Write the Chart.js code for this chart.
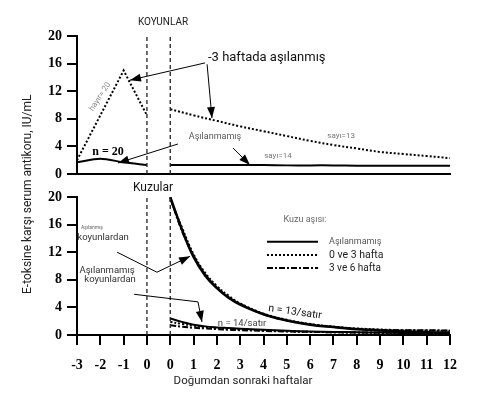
<!DOCTYPE html>
<html>
<head>
<meta charset="utf-8">
<script src="https://cdn.jsdelivr.net/npm/chart.js@4.4.0/dist/chart.umd.min.js"></script>
<style>
  body { margin: 0; background: #fff; }
  #wrap { position: relative; width: 484px; height: 393px; }
  #wrap canvas { position: absolute; left: 0; top: 0; }
</style>
</head>
<body>
<div id="wrap">
  <canvas id="ewes" width="484" height="393"></canvas>
  <canvas id="lambs" width="484" height="393"></canvas>
</div>
<script>
// postpartum weeks sit one step to the right of the pre-lambing block
var GAP = 1;

// ewes - top panel
var ewePreWeeks = [-3, -2, -1, 0];
var eweUnvaccPre = [1.7, 2.2, 1.7, 1.3];
var eweVaccPreWeeks = [-3, -1, 0];
var eweVaccPre = [2.0, 15.0, 8.5];
var ewePostWeeks = [0, 1, 2, 3, 4, 5, 6, 7, 8, 9, 10, 11, 12];
var eweVaccPost = [9.4, 8.5, 7.7, 6.9, 6.2, 5.5, 4.8, 4.2, 3.7, 3.2, 2.9, 2.6, 2.3];
var eweUnvaccPost = [1.3, 1.3, 1.3, 1.3, 1.3, 1.25, 1.25, 1.25, 1.2, 1.2, 1.2, 1.2, 1.2];

// lambs - bottom panel
var lambWeeks = [0, 0.5, 1, 1.5, 2, 2.5, 3, 4, 5, 6, 7, 8, 9, 10, 11, 12];
var vaccDamsNone = [20, 15.3, 11.3, 8.6, 6.8, 5.4, 4.4, 3.0, 2.1, 1.5, 1.15, 0.85, 0.65, 0.5, 0.4, 0.35];
var vaccDams03 = [19.6, 15.6, 11.7, 9.0, 7.1, 5.7, 4.6, 3.1, 2.2, 1.6, 1.2, 0.95, 0.8, 0.7, 0.65, 0.6];
var vaccDams36 = [19.9, 15.1, 11.5, 8.8, 6.9, 5.5, 4.5, 3.0, 2.1, 1.55, 1.2, 0.9, 0.75, 0.7, 0.7, 0.65];
var unvaccDamsNone = [2.4, 1.9, 1.5, 1.25, 1.1, 1.0, 0.9, 0.75, 0.6, 0.5, 0.45, 0.4, 0.35, 0.3, 0.3, 0.3];
var unvaccDams03 = [1.9, 1.6, 1.35, 1.15, 1.0, 0.9, 0.8, 0.65, 0.55, 0.45, 0.4, 0.35, 0.3, 0.3, 0.3, 0.3];
var unvaccDams36 = [1.4, 1.2, 1.05, 0.95, 0.85, 0.75, 0.7, 0.6, 0.5, 0.45, 0.4, 0.35, 0.35, 0.3, 0.3, 0.3];

var yTicks = [0, 4, 8, 12, 16, 20];
var legendLabels = ['Aşılanmamış', '0 ve 3 hafta', '3 ve 6 hafta'];

var SANS = 'Roboto, "Liberation Sans", sans-serif';
var TICKFONT = { family: '"Liberation Serif", serif', size: 14, weight: 'bold' };
var DOTTED = [2, 2];
var DASHDOT = [6, 2, 2, 2];

function pts(weeks, vals, shift) {
    return weeks.map(function (w, i) { return { x: w + shift, y: vals[i] }; });
}

function line(data, dash, width, tension) {
    return {
        data: data,
        borderColor: '#000',
        borderWidth: width,
        borderDash: dash,
        pointRadius: 0,
        tension: tension,
        fill: false
    };
}

function P(chart, x, y) {
    return { x: chart.scales.x.getPixelForValue(x), y: chart.scales.y.getPixelForValue(y) };
}

function text(ctx, s, p, size, color, rot, align, style) {
    ctx.save();
    ctx.translate(p.x, p.y);
    if (rot) ctx.rotate(rot * Math.PI / 180);
    ctx.font = (style || '') + ' ' + size + 'px ' + SANS;
    ctx.fillStyle = color || '#000';
    ctx.textAlign = align || 'center';
    ctx.textBaseline = 'middle';
    ctx.fillText(s, 0, 0);
    ctx.restore();
}

function arrow(ctx, list) {
    ctx.save();
    ctx.strokeStyle = '#000';
    ctx.fillStyle = '#000';
    ctx.lineWidth = 1;
    ctx.beginPath();
    ctx.moveTo(list[0].x, list[0].y);
    for (var i = 1; i < list.length; i++) ctx.lineTo(list[i].x, list[i].y);
    ctx.stroke();
    var a = list[list.length - 2], b = list[list.length - 1];
    var ang = Math.atan2(b.y - a.y, b.x - a.x);
    ctx.translate(b.x, b.y);
    ctx.rotate(ang);
    ctx.beginPath();
    ctx.moveTo(0, 0);
    ctx.lineTo(-11, -4);
    ctx.lineTo(-11, 4);
    ctx.closePath();
    ctx.fill();
    ctx.restore();
}

function splitLines(chart) {
    var ctx = chart.ctx;
    ctx.save();
    ctx.strokeStyle = '#222';
    ctx.lineWidth = 1.3;
    ctx.setLineDash([4, 3]);
    [0, GAP].forEach(function (v) {
        var a = P(chart, v, 0), b = P(chart, v, 20);
        ctx.beginPath();
        ctx.moveTo(a.x, a.y);
        ctx.lineTo(b.x, b.y - 1);
        ctx.stroke();
    });
    ctx.restore();
}

function yAxis() {
    return {
        min: 0,
        max: 20,
        afterBuildTicks: function (s) { s.ticks = yTicks.map(function (v) { return { value: v }; }); },
        afterFit: function (s) { s.width = 77; },
        ticks: { color: '#000', padding: 5, font: TICKFONT },
        grid: { drawOnChartArea: false, tickLength: 10, color: '#000', lineWidth: 2 },
        border: { color: '#000', width: 2 }
    };
}

// ewes chart - top panel
var ewesNotes = {
    id: 'ewesNotes',
    afterDraw: function (chart) {
        var ctx = chart.ctx;
        splitLines(chart);
        text(ctx, 'KOYUNLAR', P(chart, 0.69, 21.9), 10, '#222');
        text(ctx, '-3 haftada aşılanmış', P(chart, 2.62, 16.8), 13, '#111', 0, 'left');
        arrow(ctx, [P(chart, 2.49, 16.1), P(chart, -0.73, 13.6)]);
        arrow(ctx, [P(chart, 2.58, 15.9), P(chart, 2.79, 8.1)]);
        text(ctx, 'hayır= 20', P(chart, -2.01, 11.2), 8, '#888', -57);
        ctx.save();
        var n = P(chart, -1.67, 3.2);
        ctx.font = 'bold 12px "Liberation Serif", serif';
        ctx.textAlign = 'center';
        ctx.textBaseline = 'middle';
        ctx.fillStyle = '#000';
        ctx.fillText('n = 20', n.x, n.y);
        ctx.restore();
        text(ctx, 'Aşılanmamış', P(chart, 2.92, 5.4), 9, '#555');
        arrow(ctx, [P(chart, 1.33, 4.35), P(chart, -1.24, 1.6)]);
        arrow(ctx, [P(chart, 3.69, 3.77), P(chart, 4.42, 1.3)]);
        text(ctx, 'sayı=13', P(chart, 8.33, 5.5), 8, '#777');
        text(ctx, 'sayı=14', P(chart, 5.62, 2.6), 8, '#777');
    }
};

new Chart(document.getElementById('ewes').getContext('2d'), {
    type: 'line',
    data: {
        datasets: [
            line(pts(eweVaccPreWeeks, eweVaccPre, 0), DOTTED, 2, 0),
            line(pts(ewePreWeeks, eweUnvaccPre, 0), [], 2, 0.3),
            line(pts(ewePostWeeks, eweVaccPost, GAP), DOTTED, 2, 0.4),
            line(pts(ewePostWeeks, eweUnvaccPost, GAP), [], 2, 0.4)
        ]
    },
    options: {
        responsive: false,
        animation: false,
        layout: { padding: { top: 36, right: 34, left: 0, bottom: 219 } },
        plugins: { legend: { display: false }, tooltip: { enabled: false } },
        scales: {
            x: {
                type: 'linear',
                min: -3,
                max: 12 + GAP,
                afterFit: function (s) { s.height = 0; },
                ticks: { display: false },
                grid: { display: false },
                border: { color: '#000', width: 2 }
            },
            y: yAxis()
        }
    },
    plugins: [ewesNotes]
});

// lambs chart - bottom panel
var lambsNotes = {
    id: 'lambsNotes',
    afterDraw: function (chart) {
        var ctx = chart.ctx;
        splitLines(chart);
        text(ctx, 'Kuzular', P(chart, 0.26, 21.3), 12, '#111');
        text(ctx, 'E-toksine karşı serum antikoru, IU/mL', P(chart, -5.1, 20.4), 12, '#222', -90);
        text(ctx, 'Doğumdan sonraki haftalar', P(chart, 4.12, -6.7), 11.5, '#222');

        text(ctx, 'Aşılanmış', P(chart, -2.36, 15.5), 5, '#666');
        text(ctx, 'koyunlardan', P(chart, -1.88, 14.1), 9.5, '#333');
        arrow(ctx, [P(chart, -1.28, 12.0), P(chart, 0.43, 9.1), P(chart, 1.85, 11.4)]);
        text(ctx, 'Aşılanmamış', P(chart, -1.71, 9.3), 9.5, '#333');
        text(ctx, 'koyunlardan', P(chart, -1.58, 8.0), 9.5, '#333');
        arrow(ctx, [P(chart, -0.55, 5.9), P(chart, 2.19, 4.8), P(chart, 2.36, 1.9)]);
        text(ctx, 'n = 14/satır', P(chart, 4.08, 1.6), 9.5, '#444');
        text(ctx, 'n = 13/satır', P(chart, 6.35, 3.3), 10.5, '#111', 8);

        // legend
        text(ctx, 'Kuzu aşısı:', P(chart, 6.78, 16.7), 9, '#666');
        var dashes = [[], DOTTED, DASHDOT];
        var rows = [13.5, 11.6, 9.7];
        var sizes = [9, 10.5, 10];
        rows.forEach(function (r, i) {
            var a = P(chart, 5.15, r), b = P(chart, 7.34, r);
            ctx.save();
            ctx.strokeStyle = '#000';
            ctx.lineWidth = 2;
            ctx.setLineDash(dashes[i]);
            ctx.beginPath();
            ctx.moveTo(a.x, a.y);
            ctx.lineTo(b.x, b.y);
            ctx.stroke();
            ctx.restore();
            text(ctx, legendLabels[i], P(chart, 7.81, r), sizes[i], i ? '#222' : '#555', 0, 'left');
        });
    }
};

new Chart(document.getElementById('lambs').getContext('2d'), {
    type: 'line',
    data: {
        datasets: [
            line(pts(lambWeeks, vaccDamsNone, GAP), [], 2.5, 0.4),
            line(pts(lambWeeks, vaccDams03, GAP), DOTTED, 2, 0.4),
            line(pts(lambWeeks, vaccDams36, GAP), DASHDOT, 2, 0.4),
            line(pts(lambWeeks, unvaccDamsNone, GAP), [], 2, 0.4),
            line(pts(lambWeeks, unvaccDams03, GAP), DOTTED, 2, 0.4),
            line(pts(lambWeeks, unvaccDams36, GAP), DASHDOT, 2, 0.4)
        ]
    },
    options: {
        responsive: false,
        animation: false,
        layout: { padding: { top: 197, right: 34, left: 0, bottom: 0 } },
        plugins: { legend: { display: false }, tooltip: { enabled: false } },
        scales: {
            x: {
                type: 'linear',
                min: -3,
                max: 12 + GAP,
                afterFit: function (s) { s.height = 58; },
                ticks: {
                    stepSize: 1,
                    color: '#000',
                    padding: 12,
                    font: TICKFONT,
                    callback: function (v) { return v <= 0 ? v : v - GAP; }
                },
                grid: { drawOnChartArea: false, tickLength: 10, color: '#000', lineWidth: 2 },
                border: { color: '#000', width: 2 }
            },
            y: yAxis()
        }
    },
    plugins: [lambsNotes]
});
</script>
</body>
</html>
